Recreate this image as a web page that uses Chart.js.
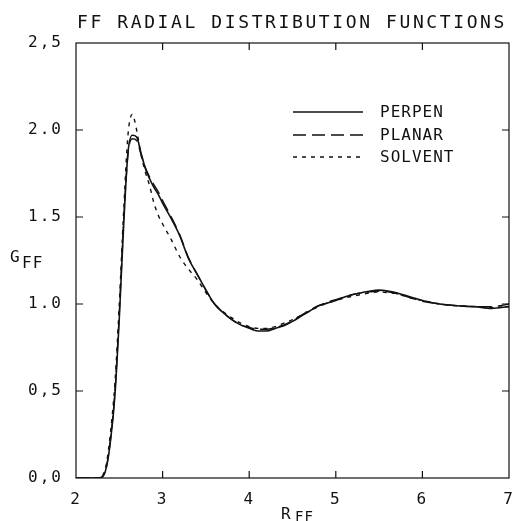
<!DOCTYPE html>
<html>
<head>
<meta charset="utf-8">
<script src="https://cdn.jsdelivr.net/npm/chart.js@4/dist/chart.umd.min.js"></script>
<style>
html, body { margin: 0; padding: 0; background: #fff; }
</style>
</head>
<body>
<canvas id="RdfChart" width="512" height="521"></canvas>
<script>
// r values (x), shared by the three curves
var rff = [2.00, 2.25, 2.30, 2.35, 2.40, 2.45, 2.50, 2.55, 2.60, 2.65, 2.70, 2.75, 2.80, 2.85, 2.90, 2.95,
  3.00, 3.10, 3.20, 3.30, 3.40, 3.50, 3.60, 3.70, 3.80, 3.90, 4.00, 4.10, 4.20, 4.30, 4.40, 4.50,
  4.60, 4.70, 4.80, 4.90, 5.00, 5.10, 5.20, 5.30, 5.40, 5.50, 5.60, 5.70, 5.80, 5.90, 6.00, 6.20,
  6.40, 6.60, 6.80, 7.00];

var perpen = [0, 0, 0.005, 0.06, 0.22, 0.48, 0.92, 1.45, 1.87, 1.97, 1.96, 1.87, 1.78, 1.72, 1.67, 1.63,
  1.58, 1.49, 1.39, 1.26, 1.17, 1.08, 1.00, 0.95, 0.91, 0.88, 0.86, 0.845, 0.845, 0.86, 0.875, 0.90,
  0.93, 0.96, 0.99, 1.005, 1.02, 1.04, 1.055, 1.065, 1.075, 1.08, 1.075, 1.065, 1.05, 1.035, 1.02, 1.00,
  0.99, 0.985, 0.975, 0.985];

var planar = [0, 0, 0.005, 0.06, 0.23, 0.50, 0.95, 1.47, 1.86, 1.95, 1.94, 1.86, 1.785, 1.73, 1.685, 1.645,
  1.595, 1.50, 1.395, 1.265, 1.17, 1.08, 1.00, 0.95, 0.91, 0.88, 0.865, 0.855, 0.855, 0.865, 0.88, 0.905,
  0.935, 0.965, 0.99, 1.01, 1.025, 1.04, 1.055, 1.065, 1.07, 1.075, 1.07, 1.06, 1.045, 1.03, 1.015, 1.00,
  0.99, 0.985, 0.985, 1.00];

var solvent = [0, 0, 0.01, 0.08, 0.27, 0.55, 1.00, 1.53, 1.97, 2.09, 2.00, 1.86, 1.76, 1.68, 1.58, 1.51,
  1.46, 1.37, 1.27, 1.20, 1.14, 1.065, 1.00, 0.955, 0.92, 0.89, 0.87, 0.86, 0.86, 0.87, 0.89, 0.91,
  0.935, 0.96, 0.985, 1.005, 1.02, 1.035, 1.045, 1.055, 1.065, 1.07, 1.065, 1.06, 1.045, 1.03, 1.02, 1.00,
  0.99, 0.985, 0.98, 0.985];

var seriesNames = ['PERPEN', 'PLANAR', 'SOLVENT'];
var xTickLabels = ['2', '3', '4', '5', '6', '7'];
var yTickLabels = ['0,0', '0,5', '1.0', '1.5', '2.0', '2,5'];

var ink = '#111';
var mono = "'DejaVu Sans Mono', monospace";

function pts(ys) {
  return rff.map(function (r, i) { return { x: r, y: ys[i] }; });
}

// box, inward ticks, title, axis names and legend
var framePlugin = {
  id: 'frame',
  beforeDraw: function (chart) {
    chart.ctx.letterSpacing = '2px';
  },
  afterDraw: function (chart) {
    var ctx = chart.ctx, a = chart.chartArea;
    var xs = chart.scales.x, ys = chart.scales.y;
    ctx.save();
    ctx.strokeStyle = ink;
    ctx.lineWidth = 1.2;
    ctx.setLineDash([]);
    ctx.strokeRect(a.left, a.top, a.right - a.left, a.bottom - a.top);

    ctx.beginPath();
    for (var v = 3; v <= 6; v++) {
      var px = xs.getPixelForValue(v);
      ctx.moveTo(px, a.bottom); ctx.lineTo(px, a.bottom - 7);
      ctx.moveTo(px, a.top); ctx.lineTo(px, a.top + 7);
    }
    for (var w = 0.5; w <= 2.0; w += 0.5) {
      var py = ys.getPixelForValue(w);
      ctx.moveTo(a.left, py); ctx.lineTo(a.left + 7, py);
      ctx.moveTo(a.right, py); ctx.lineTo(a.right - 7, py);
    }
    ctx.stroke();

    ctx.fillStyle = ink;
    ctx.textAlign = 'left';
    ctx.textBaseline = 'alphabetic';

    // title
    ctx.letterSpacing = '2.6px';
    ctx.font = '18px ' + mono;
    ctx.fillText('FF RADIAL DISTRIBUTION FUNCTIONS', 77, 28);

    // axis names with subscripts
    ctx.letterSpacing = '1px';
    ctx.font = '16px ' + mono;
    ctx.fillText('G', 10, 262);
    ctx.fillText('FF', 22, 268);
    ctx.fillText('R', 281, 519);
    ctx.font = '14px ' + mono;
    ctx.fillText('FF', 295, 521);

    // legend
    var rows = [112, 135, 157];
    ctx.font = '16px ' + mono;
    ctx.textBaseline = 'middle';
    chart.data.datasets.forEach(function (ds, i) {
      ctx.beginPath();
      ctx.setLineDash(ds.borderDash || []);
      ctx.lineWidth = ds.borderWidth;
      ctx.moveTo(293, rows[i]);
      ctx.lineTo(363, rows[i]);
      ctx.stroke();
      ctx.fillText(ds.label, 380, rows[i] + 1);
    });
    ctx.restore();
  }
};

var ctx = document.getElementById('RdfChart').getContext('2d');
var RdfChart = new Chart(ctx, {
  type: 'line',
  data: {
    datasets: [
      { label: seriesNames[0], data: pts(perpen), borderColor: ink, borderWidth: 1.6, borderDash: [] },
      { label: seriesNames[1], data: pts(planar), borderColor: ink, borderWidth: 1.4, borderDash: [13, 6] },
      { label: seriesNames[2], data: pts(solvent), borderColor: ink, borderWidth: 1.4, borderDash: [4, 5] }
    ]
  },
  options: {
    responsive: false,
    animation: false,
    devicePixelRatio: 1,
    layout: { padding: { top: 43, right: 3, left: 0, bottom: 0 } },
    elements: {
      point: { radius: 0 },
      line: { cubicInterpolationMode: 'monotone', fill: false }
    },
    plugins: {
      legend: { display: false },
      title: { display: false },
      tooltip: { enabled: false }
    },
    scales: {
      x: {
        type: 'linear',
        min: 2, max: 7,
        grid: { display: false },
        border: { display: false },
        ticks: {
          stepSize: 1,
          padding: 4,
          color: ink,
          font: { family: mono, size: 16 },
          maxRotation: 0,
          callback: function (v) { return xTickLabels[Math.round(v - 2)]; }
        },
        afterFit: function (s) { s.height = 43; s.paddingLeft = 0; s.paddingRight = 0; }
      },
      y: {
        min: 0, max: 2.5,
        grid: { display: false },
        border: { display: false },
        ticks: {
          stepSize: 0.5,
          padding: 5,
          color: ink,
          font: { family: mono, size: 16 },
          callback: function (v) { return yTickLabels[Math.round(v / 0.5)]; }
        },
        afterFit: function (s) { s.width = 76; s.paddingTop = 0; s.paddingBottom = 0; }
      }
    }
  },
  plugins: [framePlugin]
});
</script>
</body>
</html>
